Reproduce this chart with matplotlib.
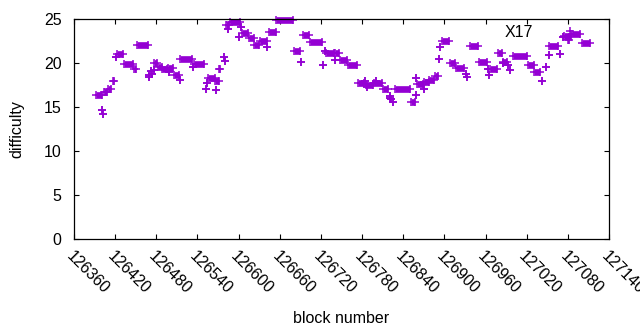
import matplotlib
matplotlib.use("Agg")
import matplotlib.pyplot as plt
from matplotlib.lines import Line2D
from matplotlib.transforms import ScaledTranslation

# runs of consecutive blocks sharing one difficulty (start block, end block, difficulty)
run_start = [126392, 126401, 126403, 126404, 126409, 126417, 126421, 126423, 126433, 126447,
             126452, 126469, 126470, 126472, 126474, 126476, 126477, 126482, 126489, 126497,
             126499, 126506, 126514, 126515, 126534, 126535, 126552, 126554, 126556, 126567,
             126566, 126572, 126578, 126580, 126581, 126584, 126587, 126601, 126603, 126605,
             126615, 126623, 126631, 126642, 126644, 126655, 126681, 126691, 126694, 126704,
             126723, 126726, 126727, 126740, 126741, 126748, 126760, 126774, 126784, 126786,
             126787, 126797, 126801, 126810, 126820, 126821, 126822, 126825, 126828, 126851,
             126858, 126859, 126860, 126870, 126871, 126878, 126886, 126892, 126893, 126896,
             126908, 126917, 126932, 126933, 126938, 126950, 126963, 126965, 126967, 126978,
             126985, 126986, 126993, 126996, 127000, 127022, 127031, 127043, 127048, 127052,
             127053, 127069, 127073, 127074, 127080, 127086, 127100]
run_end = [126401, 126401, 126403, 126408, 126414, 126418, 126421, 126432, 126446, 126451,
           126468, 126469, 126470, 126472, 126474, 126476, 126481, 126488, 126496, 126505,
           126499, 126513, 126514, 126532, 126534, 126550, 126552, 126554, 126565, 126567,
           126572, 126573, 126578, 126580, 126586, 126584, 126602, 126601, 126603, 126614,
           126622, 126630, 126641, 126642, 126654, 126680, 126690, 126691, 126703, 126722,
           126723, 126726, 126739, 126740, 126747, 126758, 126773, 126783, 126784, 126796,
           126787, 126809, 126801, 126818, 126820, 126821, 126822, 126825, 126850, 126857,
           126858, 126859, 126869, 126870, 126877, 126885, 126891, 126892, 126893, 126907,
           126916, 126929, 126932, 126933, 126949, 126962, 126963, 126965, 126977, 126984,
           126985, 126991, 126993, 126996, 127021, 127030, 127040, 127043, 127048, 127052,
           127066, 127069, 127073, 127085, 127082, 127098, 127112]
run_diff = [16.33, 14.7, 14.2, 16.67, 17.05, 17.95, 20.65, 20.98, 19.85, 19.28,
            22.0, 18.38, 18.6, 19.1, 18.8, 19.2, 20.0, 19.6, 19.3, 19.4,
            19.0, 18.6, 18.07, 20.42, 19.6, 19.85, 17.1, 17.7, 18.26, 16.9,
            17.9, 19.3, 20.7, 20.2, 24.3, 23.9, 24.7, 23.0, 24.1, 23.4,
            22.8, 22.05, 22.5, 21.85, 23.5, 24.9, 21.36, 20.15, 23.18, 22.35,
            19.77, 21.36, 21.1, 20.34, 21.1, 20.34, 19.77, 17.7, 17.9, 17.5,
            17.3, 17.7, 17.9, 17.1, 16.3, 16.0, 15.9, 15.6, 17.1, 15.6,
            16.4, 18.26, 17.6, 17.05, 17.8, 18.07, 18.55, 20.5, 21.85, 22.5,
            19.96, 19.4, 18.8, 18.4, 21.9, 20.08, 19.3, 18.6, 19.3, 21.1,
            19.96, 20.15, 19.77, 19.2, 20.75, 19.77, 18.94, 17.9, 19.6, 20.9,
            21.93, 21.0, 23.0, 23.1, 22.6, 23.3, 22.24]
x_ticks = list(range(126360, 127141, 60))
y_ticks = [0, 5, 10, 15, 20, 25]

COL = "#9400d3"
plt.rcParams["font.family"] = ["Liberation Sans", "DejaVu Sans"]
plt.rcParams["font.size"] = 11.5

fig = plt.figure(figsize=(6.4, 3.3), dpi=100)
ax = fig.add_axes([74 / 640, 91 / 330, 535 / 640, 220 / 330])

for b0, b1, d in zip(run_start, run_end, run_diff):
    ax.plot([b0, b1], [d, d], color=COL, lw=4.8, solid_capstyle="butt", clip_on=False)
    ax.plot([b0, b1], [d, d], ls="none", marker="+", ms=5.4, mew=1.1, color=COL, clip_on=False)

ax.set_xlim(126360, 127140)
ax.set_ylim(0, 25)
ax.set_xticks(x_ticks)
ax.set_xticklabels([str(t) for t in x_ticks], rotation=-45, ha="left", va="top",
                   rotation_mode="anchor")
shift = ScaledTranslation(3 / 100, 0, fig.dpi_scale_trans)
for lab in ax.get_xticklabels():
    lab.set_transform(lab.get_transform() + shift)
ax.set_yticks(y_ticks)
ax.tick_params(direction="in", top=True, right=True, length=3.5, width=0.8)
ax.tick_params(axis="x", pad=7)
ax.tick_params(axis="y", pad=9)
for s in ax.spines.values():
    s.set_linewidth(0.9)
ax.set_xlabel("block number", labelpad=10)
ax.set_ylabel("difficulty", labelpad=14)

h = Line2D([], [], ls="none", marker="+", ms=5.4, mew=1.1, color=COL)
ax.legend([h], ["X17"], loc="upper right", bbox_to_anchor=(0.987, 1.025), frameon=False,
          markerfirst=False, handlelength=2.6, handletextpad=1.0, borderaxespad=0.3)

fig.savefig("out.png", dpi=100)
